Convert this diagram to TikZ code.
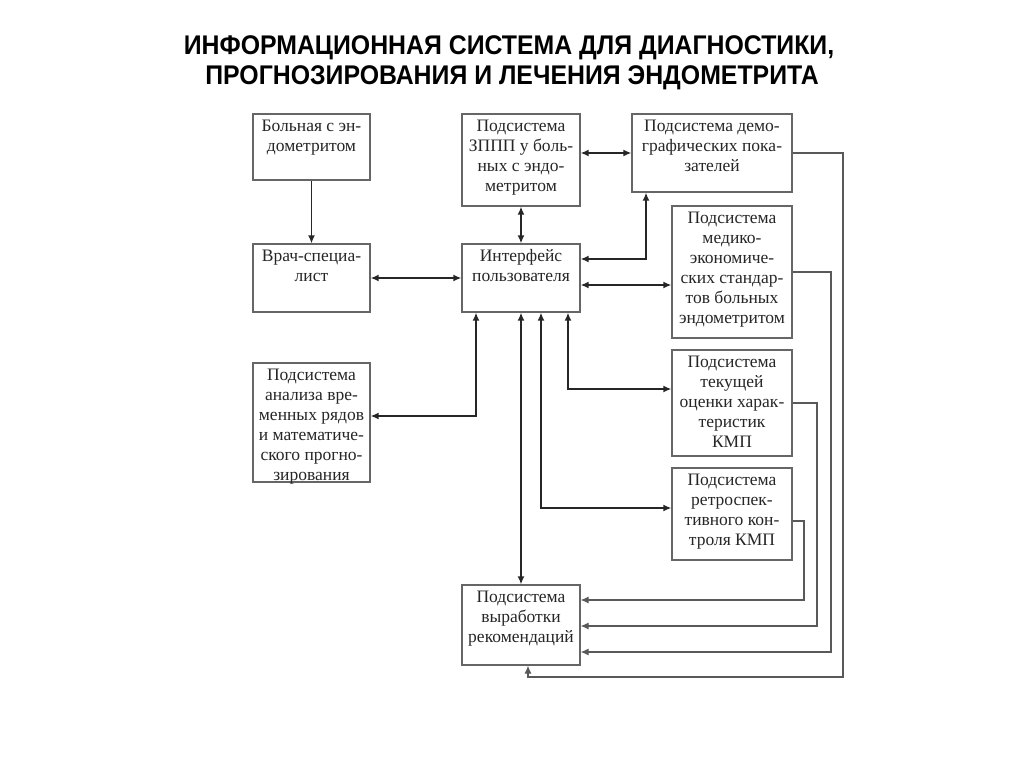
\documentclass[tikz,border=0pt]{standalone}
\usepackage{fontspec}
\setmainfont{Liberation Serif}
\newfontfamily\titlefont[FakeStretch=0.92]{Liberation Sans}
\usetikzlibrary{arrows.meta}
\tikzset{
  x=1pt, y=-1pt,
  box/.style={draw=black!60, line width=1.3pt, inner sep=0pt},
  txt/.style={anchor=north, align=center, inner sep=0pt, font=\fontsize{17.5}{20}\selectfont, text=black!85},
  tip/.style={},
  conn/.style={line width=1.5pt, black!85, -{Latex[length=8pt,width=7pt]}},
  conn2/.style={line width=1.5pt, black!85, {Latex[length=8pt,width=7pt]}-{Latex[length=8pt,width=7pt]}},
  back/.style={line width=1.1pt, black!65, -{Latex[length=8pt,width=7pt]}},
  ttl/.style={font=\titlefont\bfseries\fontsize{27}{30}\selectfont, inner sep=0pt}
}
\newcommand{\mkbox}[6]{% name, x1, y1, x2, y2, text
  \node[box, minimum width=#4pt-#2pt, minimum height=#5pt-#3pt] (#1) at ({(#2+#4)/2},{(#3+#5)/2}) {};
  \node[txt] (#1t) at ([yshift=-6pt]#1.north) {#6};
}
\begin{document}
\begin{tikzpicture}
\useasboundingbox (0,0) rectangle (1024,767);
\fill[white] (0,0) rectangle (1024,767);

\node[ttl] (title1) at (509,48) {ИНФОРМАЦИОННАЯ СИСТЕМА ДЛЯ ДИАГНОСТИКИ,};
\node[ttl] (title2) at (512,78) {ПРОГНОЗИРОВАНИЯ И ЛЕЧЕНИЯ ЭНДОМЕТРИТА};

\mkbox{b1}{253}{114}{370}{180}{Больная с эн-\\дометритом}
\mkbox{b2}{253}{244}{370}{312}{Врач-специа-\\лист}
\mkbox{b3}{462}{114}{580}{206}{Подсистема\\ЗППП у боль-\\ных с эндо-\\метритом}
\mkbox{b4}{632}{114}{792}{192}{Подсистема демо-\\графических пока-\\зателей}
\mkbox{b5}{462}{244}{580}{312}{Интерфейс\\пользователя}
\mkbox{b6}{672}{206}{792}{338}{Подсистема\\медико-\\экономиче-\\ских стандар-\\тов больных\\эндометритом}
\mkbox{b7}{253}{363}{370}{482}{Подсистема\\анализа вре-\\менных рядов\\и математиче-\\ского прогно-\\зирования}
\mkbox{b8}{672}{350}{792}{456}{Подсистема\\текущей\\оценки харак-\\теристик\\КМП}
\mkbox{b9}{672}{468}{792}{560}{Подсистема\\ретроспек-\\тивного кон-\\троля КМП}
\mkbox{b10}{462}{585}{580}{665}{Подсистема\\выработки\\рекомендаций}

% helper coordinates
\coordinate (k1) at (646,259);
\coordinate (k2) at (0,285);
\coordinate (k3) at (476,416);
\coordinate (k4) at (568,389);
\coordinate (k5) at (541,508);
\coordinate (r1) at (843,677);
\coordinate (r2) at (831,652);
\coordinate (r3) at (817,626);
\coordinate (r4) at (804,600);
\coordinate (y1) at (0,153);
\coordinate (y2) at (0,272);
\coordinate (y3) at (0,403);
\coordinate (y4) at (0,521);
\coordinate (xb) at (528,0);

\draw[conn] (b1) -- (b2);
\draw[conn2] (b2) -- (b5);
\draw[conn2] (b3.east |- y1) -- (b4.west |- y1);
\draw[conn2] (b3) -- (b5);
\draw[conn2] (b5.east |- k1) -| (b4.south -| k1);
\draw[conn2] (b5.east |- k2) -- (b6.west |- k2);
\draw[conn2] (b5.south -| k3) |- (b7.east |- k3);
\draw[conn2] (b5.south -| k4) |- (b8.west |- k4);
\draw[conn2] (b5.south -| k5) |- (b9.west |- k5);
\draw[conn2] (b5) -- (b10);

\draw[back] (b4.east |- y1) -| (r1) -| (b10.south -| xb);
\draw[back] (b6.east |- y2) -| (r2) -- (b10.east |- r2);
\draw[back] (b8.east |- y3) -| (r3) -- (b10.east |- r3);
\draw[back] (b9.east |- y4) -| (r4) -- (b10.east |- r4);
\end{tikzpicture}
\end{document}
